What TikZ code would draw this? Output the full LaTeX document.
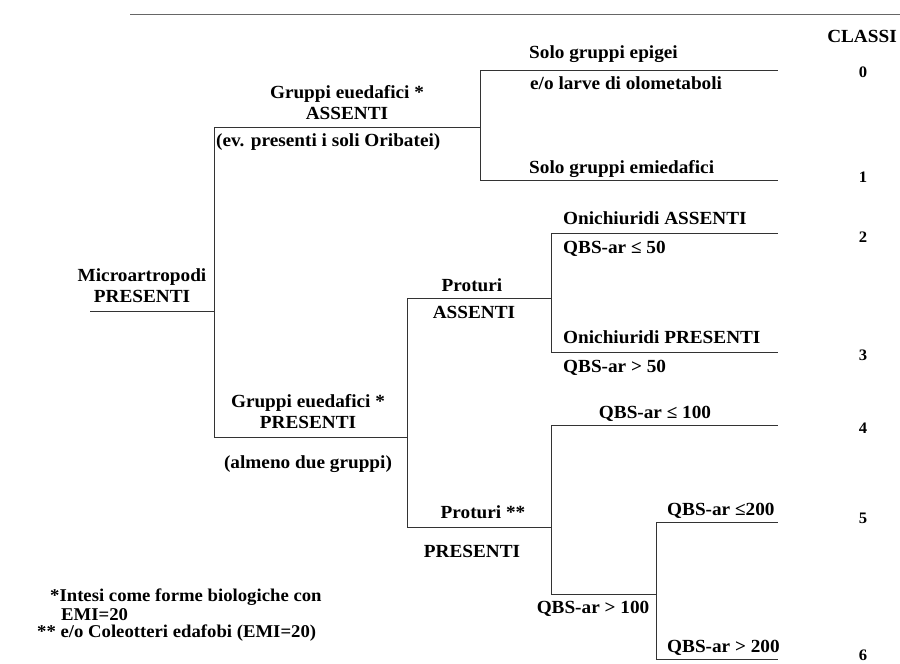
\documentclass[tikz,border=0pt]{standalone}
\usepackage{fontspec}
\setmainfont[FakeStretch=1.04]{Liberation Serif}
\usetikzlibrary{positioning}

\begin{document}
\begin{tikzpicture}[
x=1pt,y=-1pt,
every node/.style={inner sep=0pt,font=\fontsize{18.5}{21}\selectfont\bfseries},
txt/.style={anchor=base west},
mid/.style={anchor=base,align=center},
cls/.style={anchor=base,font=\fontsize{16}{18}\selectfont\bfseries},
note/.style={anchor=base west,font=\fontsize{18}{19}\selectfont\bfseries},
branch/.style={draw=black!80,line width=0.8pt}]

\useasboundingbox (0,0) rectangle (900,664);

% scan edge
\draw[black!60,line width=1pt] (130,14) -- (900,14);

% forks and leaf ends
\coordinate (start) at (90,311);
\coordinate (rootfork) at (214,311);
\coordinate (euass) at (480,127);
\coordinate (eupres) at (407,437);
\coordinate (protass) at (551,298);
\coordinate (protpres) at (551,527);
\coordinate (qbsfork) at (656,594);
\coordinate (leaf0) at (778,70);
\coordinate (leaf1) at (778,180);
\coordinate (leaf2) at (778,233);
\coordinate (leaf3) at (778,352);
\coordinate (leaf4) at (778,425);
\coordinate (leaf5) at (778,522);
\coordinate (leaf6) at (778,659);

\draw[branch] (start) -- (rootfork);
\draw[branch] (rootfork) |- (euass);
\draw[branch] (rootfork) |- (eupres);
\draw[branch] (euass) |- (leaf0);
\draw[branch] (euass) |- (leaf1);
\draw[branch] (eupres) |- (protass);
\draw[branch] (eupres) |- (protpres);
\draw[branch] (protass) |- (leaf2);
\draw[branch] (protass) |- (leaf3);
\draw[branch] (protpres) |- (leaf4);
\draw[branch] (protpres) |- (qbsfork);
\draw[branch] (qbsfork) |- (leaf5);
\draw[branch] (qbsfork) |- (leaf6);

% labels (base of a two-line node = its last line)
\node (micro) [mid] at (142,302) {Microartropodi\\PRESENTI};
\node (eua) [mid] at (347,119) {Gruppi euedafici *\\ASSENTI};
\node (orib) [txt] at (216,146) {(ev. presenti i soli Oribatei)};
\node (epig) [txt] at (529,58) {Solo gruppi epigei};
\node (olom) [txt] at (530,89) {e/o larve di olometaboli};
\node (emie) [txt] at (529,173) {Solo gruppi emiedafici};
\node (eup) [mid] at (308,428) {Gruppi euedafici *\\PRESENTI};
\node (alm) [mid] at (308,468) {(almeno due gruppi)};
\node (pra) [mid] at (472,291) {Proturi};
\node (pra2) [mid] at (474,318) {ASSENTI};
\node (onia) [txt] at (563,224) {Onichiuridi ASSENTI};
\node (q50a) [txt] at (563,253) {QBS-ar ≤ 50};
\node (onip) [txt] at (563,343) {Onichiuridi PRESENTI};
\node (q50b) [txt] at (563,372) {QBS-ar > 50};
\node (q100a) [mid] at (655,418) {QBS-ar ≤ 100};
\node (prp) [mid] at (483,518) {Proturi **};
\node (prp2) [mid] at (472,557) {PRESENTI};
\node (q100b) [mid] at (593,613) {QBS-ar > 100};
\node (q200a) [txt] at (667,515) {QBS-ar ≤200};
\node (q200b) [txt] at (667,652) {QBS-ar > 200};

% classes
\node (classi) [anchor=base] at (862,42) {CLASSI};
\node (c0) [cls] at (863,77) {0};
\node (c1) [cls] at (863,182) {1};
\node (c2) [cls] at (863,242) {2};
\node (c3) [cls] at (863,360) {3};
\node (c4) [cls] at (863,433) {4};
\node (c5) [cls] at (863,523) {5};
\node (c6) [cls] at (863,660) {6};

% footnotes
\node (n1) [note] at (50,601) {*Intesi come forme biologiche con};
\node (n2) [note] at (61,620) {EMI=20};
\node (n3) [note] at (37,637) {** e/o Coleotteri edafobi (EMI=20)};

\end{tikzpicture}
\end{document}
